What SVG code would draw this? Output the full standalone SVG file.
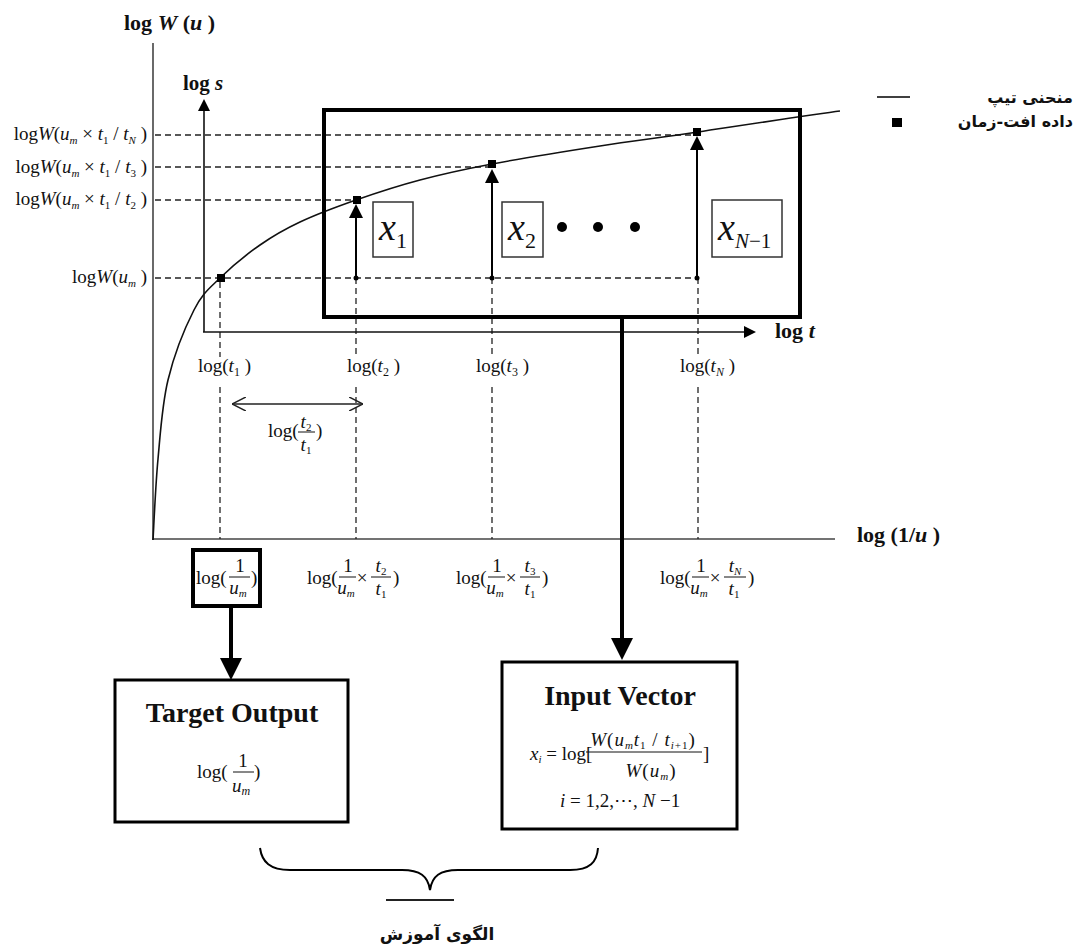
<svg xmlns="http://www.w3.org/2000/svg" width="1075" height="951" viewBox="0 0 1075 951">
<style>
.m{font-family:"Liberation Serif",serif;font-size:19px;fill:#111}
.i{font-style:italic}
.b{font-family:"Liberation Serif",serif;font-weight:bold;fill:#111}
.fa{font-family:"DejaVu Sans",sans-serif;fill:#111}
.dash{stroke:#222;stroke-width:1.3;stroke-dasharray:6 4;fill:none}
.ax{stroke:#444;stroke-width:1.6;fill:none}
.thin{stroke:#111;stroke-width:1.6;fill:none}
.frac{stroke:#111;stroke-width:1}
.thick{stroke:#000;stroke-width:4;fill:none}
.box{stroke:#000;stroke-width:3;fill:#fff}
.xbox{stroke:#333;stroke-width:1.5;fill:#fff}
.sq{fill:#000}
</style>
<defs>
<marker id="big" viewBox="0 0 10 10" refX="0" refY="5" markerWidth="22" markerHeight="22" markerUnits="userSpaceOnUse" orient="auto"><path d="M0,0 L10,5 L0,10 z" fill="#000"/></marker>
<marker id="up" viewBox="0 0 10 10" refX="0" refY="5" markerWidth="15" markerHeight="14" markerUnits="userSpaceOnUse" orient="auto"><path d="M0,0 L10,5 L0,10 z" fill="#000"/></marker>
<marker id="axh" viewBox="0 0 10 10" refX="0" refY="5" markerWidth="13" markerHeight="12" markerUnits="userSpaceOnUse" orient="auto"><path d="M0,0 L10,5 L0,10 z" fill="#000"/></marker>
<marker id="open" viewBox="0 0 10 10" refX="10" refY="5" markerWidth="14" markerHeight="14" markerUnits="userSpaceOnUse" orient="auto-start-reverse"><path d="M0,0 L10,5 L0,10" fill="none" stroke="#222" stroke-width="1.1"/></marker>
</defs>
<rect width="1075" height="951" fill="#fff"/>

<g id="main-axes">
<line class="ax" x1="153" y1="43" x2="153" y2="540"/>
<line class="ax" x1="152" y1="539" x2="835" y2="539"/>
<text class="b" x="124" y="30" font-size="22">log <tspan font-style="italic">W</tspan> (<tspan font-style="italic">u</tspan> )</text>
<text class="b" x="857" y="542" font-size="22">log (1/<tspan font-style="italic">u</tspan> )</text>
</g>

<g id="guides">
<line class="dash" x1="155" y1="135" x2="697" y2="135"/>
<line class="dash" x1="155" y1="167" x2="492" y2="167"/>
<line class="dash" x1="155" y1="200" x2="356" y2="200"/>
<line class="dash" x1="155" y1="278" x2="697" y2="278"/>
<line class="dash" x1="220" y1="282" x2="220" y2="357"/>
<line class="dash" x1="220" y1="387" x2="220" y2="539"/>
<line class="dash" x1="356" y1="278" x2="356" y2="357"/>
<line class="dash" x1="356" y1="387" x2="356" y2="539"/>
<line class="dash" x1="492" y1="278" x2="492" y2="357"/>
<line class="dash" x1="492" y1="387" x2="492" y2="539"/>
<line class="dash" x1="698" y1="278" x2="698" y2="357"/>
<line class="dash" x1="698" y1="387" x2="698" y2="539"/>
</g>

<g id="left-labels">
<text class="m" x="147" y="140" text-anchor="end">log<tspan class="i">W</tspan>(<tspan class="i">u</tspan><tspan class="i" font-size="11" dy="4">m</tspan><tspan dy="-4"> × </tspan><tspan class="i">t</tspan><tspan font-size="11" dy="4">1</tspan><tspan dy="-4"> / </tspan><tspan class="i">t</tspan><tspan class="i" font-size="11" dy="4">N</tspan><tspan dy="-4"> )</tspan></text>
<text class="m" x="147" y="173" text-anchor="end">log<tspan class="i">W</tspan>(<tspan class="i">u</tspan><tspan class="i" font-size="11" dy="4">m</tspan><tspan dy="-4"> × </tspan><tspan class="i">t</tspan><tspan font-size="11" dy="4">1</tspan><tspan dy="-4"> / </tspan><tspan class="i">t</tspan><tspan font-size="11" dy="4">3</tspan><tspan dy="-4"> )</tspan></text>
<text class="m" x="147" y="205" text-anchor="end">log<tspan class="i">W</tspan>(<tspan class="i">u</tspan><tspan class="i" font-size="11" dy="4">m</tspan><tspan dy="-4"> × </tspan><tspan class="i">t</tspan><tspan font-size="11" dy="4">1</tspan><tspan dy="-4"> / </tspan><tspan class="i">t</tspan><tspan font-size="11" dy="4">2</tspan><tspan dy="-4"> )</tspan></text>
<text class="m" x="147" y="283" text-anchor="end">log<tspan class="i">W</tspan>(<tspan class="i">u</tspan><tspan class="i" font-size="11" dy="4">m</tspan><tspan dy="-4"> )</tspan></text>
</g>

<g id="inner-axes">
<line class="thin" x1="204" y1="332" x2="204" y2="111" marker-end="url(#axh)"/>
<line class="thin" x1="203" y1="332" x2="744" y2="332" marker-end="url(#axh)"/>
<text class="b" x="183" y="90" font-size="21">log <tspan font-style="italic">s</tspan></text>
<text class="b" x="775" y="338" font-size="22">log <tspan font-style="italic">t</tspan></text>
</g>

<g id="t-labels">
<text class="m" x="198" y="372">log(<tspan class="i">t</tspan><tspan font-size="12" dy="4">1</tspan><tspan dy="-4"> )</tspan></text>
<text class="m" x="347" y="372">log(<tspan class="i">t</tspan><tspan font-size="12" dy="4">2</tspan><tspan dy="-4"> )</tspan></text>
<text class="m" x="476" y="372">log(<tspan class="i">t</tspan><tspan font-size="12" dy="4">3</tspan><tspan dy="-4"> )</tspan></text>
<text class="m" x="680" y="372">log(<tspan class="i">t</tspan><tspan class="i" font-size="12" dy="4">N</tspan><tspan dy="-4"> )</tspan></text>
</g>

<g id="ratio-label">
<text class="m" x="268" y="437" font-size="18">log(</text>
<text class="m i" x="306" y="428" text-anchor="middle" font-size="17">t<tspan font-style="normal" font-size="11" dy="3">2</tspan></text>
<line class="frac" x1="298" y1="432" x2="315" y2="432"/>
<text class="m i" x="306" y="451" text-anchor="middle" font-size="17">t<tspan font-style="normal" font-size="11" dy="3">1</tspan></text>
<text class="m" x="316" y="437" font-size="18">)</text>
</g>

<g id="curve">
<path class="thin" stroke-width="1.5" d="M153,540 C153.8,526.5 155.5,485.7 158,459 C160.5,432.3 162,404.8 168,380 C174,355.2 185.3,327 194,310 C202.7,293 209,288.8 220,278 C231,267.2 246.7,254.3 260,245 C273.3,235.7 284,229.5 300,222 C316,214.5 336,207 356,200 C376,193 397.3,186 420,180 C442.7,174 462,169.7 492,164 C522,158.3 565.7,151.3 600,146 C634.3,140.7 658,138 698,132 C738,126 816.3,114 840,111"/>
</g>

<g id="window">
<rect x="324" y="110" width="476" height="207" fill="none" stroke="#000" stroke-width="4"/>
</g>

<g id="data-points">
<rect class="sq" x="217" y="274" width="8" height="8"/>
<rect class="sq" x="353" y="196" width="8" height="8"/>
<rect class="sq" x="488" y="160" width="8" height="8"/>
<rect class="sq" x="693" y="128" width="8" height="8"/>
<circle cx="356" cy="278" r="2.5"/>
<circle cx="492" cy="278" r="2.5"/>
<circle cx="697" cy="278" r="2.5"/>
</g>

<g id="node-x1">
<rect class="xbox" x="373" y="202" width="40" height="55"/>
<text x="379" y="240" font-family="Liberation Serif,serif" font-size="38" font-style="italic" fill="#111">x<tspan font-style="normal" font-size="22" dy="8">1</tspan></text>
</g>
<g id="node-x2">
<rect class="xbox" x="502" y="202" width="41" height="55"/>
<text x="508" y="240" font-family="Liberation Serif,serif" font-size="38" font-style="italic" fill="#111">x<tspan font-style="normal" font-size="22" dy="8">2</tspan></text>
</g>
<g id="ellipsis">
<circle cx="562" cy="227" r="5"/>
<circle cx="598" cy="227" r="5"/>
<circle cx="635" cy="227" r="5"/>
</g>
<g id="node-xN1">
<rect class="xbox" x="712" y="200" width="70" height="57"/>
<text x="718" y="240" font-family="Liberation Serif,serif" font-size="38" font-style="italic" fill="#111">x<tspan font-size="21" dy="8">N</tspan><tspan font-style="normal" font-size="21">−1</tspan></text>
</g>

<g id="u-labels">
<g id="node-target-label">
<rect x="193" y="550" width="67" height="56" fill="#fff" stroke="#000" stroke-width="4"/>
<text class="m" x="196" y="584">log(</text>
<text class="m" x="240" y="572" text-anchor="middle" font-size="17">1</text>
<line class="frac" x1="229" y1="577" x2="250" y2="577"/>
<text class="m i" x="238" y="594" text-anchor="middle" font-size="17">u<tspan font-size="11" dy="3">m</tspan></text>
<text class="m" x="251" y="584">)</text>
</g>
<text class="m" x="307" y="584">log(</text>
<text class="m" x="348" y="572" text-anchor="middle" font-size="17">1</text>
<line class="frac" x1="339" y1="577" x2="356" y2="577"/>
<text class="m i" x="346" y="594" text-anchor="middle" font-size="17">u<tspan font-size="11" dy="3">m</tspan></text>
<text class="m" x="362" y="584" text-anchor="middle">×</text>
<text class="m i" x="381" y="572" text-anchor="middle" font-size="17">t<tspan font-style="normal" font-size="11" dy="3">2</tspan></text>
<line class="frac" x1="371" y1="577" x2="391" y2="577"/>
<text class="m i" x="381" y="595" text-anchor="middle" font-size="17">t<tspan font-style="normal" font-size="11" dy="3">1</tspan></text>
<text class="m" x="393" y="584">)</text>

<text class="m" x="456" y="584">log(</text>
<text class="m" x="497" y="572" text-anchor="middle" font-size="17">1</text>
<line class="frac" x1="488" y1="577" x2="505" y2="577"/>
<text class="m i" x="495" y="594" text-anchor="middle" font-size="17">u<tspan font-size="11" dy="3">m</tspan></text>
<text class="m" x="511" y="584" text-anchor="middle">×</text>
<text class="m i" x="530" y="572" text-anchor="middle" font-size="17">t<tspan font-style="normal" font-size="11" dy="3">3</tspan></text>
<line class="frac" x1="520" y1="577" x2="540" y2="577"/>
<text class="m i" x="530" y="595" text-anchor="middle" font-size="17">t<tspan font-style="normal" font-size="11" dy="3">1</tspan></text>
<text class="m" x="542" y="584">)</text>

<text class="m" x="660" y="584">log(</text>
<text class="m" x="701" y="572" text-anchor="middle" font-size="17">1</text>
<line class="frac" x1="692" y1="577" x2="709" y2="577"/>
<text class="m i" x="699" y="594" text-anchor="middle" font-size="17">u<tspan font-size="11" dy="3">m</tspan></text>
<text class="m" x="715" y="584" text-anchor="middle">×</text>
<text class="m i" x="735" y="572" text-anchor="middle" font-size="17">t<tspan font-size="11" dy="3">N</tspan></text>
<line class="frac" x1="724" y1="577" x2="746" y2="577"/>
<text class="m i" x="734" y="595" text-anchor="middle" font-size="17">t<tspan font-style="normal" font-size="11" dy="3">1</tspan></text>
<text class="m" x="748" y="584">)</text>
</g>

<g id="connectors">
<line class="thick" x1="622" y1="317" x2="622" y2="638" marker-end="url(#big)"/>
<line class="thick" x1="231" y1="607" x2="231" y2="658" marker-end="url(#big)"/>
<line stroke="#000" stroke-width="2" x1="356" y1="278" x2="356" y2="218" marker-end="url(#up)"/>
<line stroke="#000" stroke-width="2" x1="492" y1="278" x2="492" y2="183" marker-end="url(#up)"/>
<line stroke="#000" stroke-width="2" x1="697" y1="278" x2="697" y2="150" marker-end="url(#up)"/>
<line stroke="#222" stroke-width="1.6" x1="232" y1="404" x2="363" y2="404" marker-start="url(#open)" marker-end="url(#open)"/>
</g>

<g id="node-target-output">
<rect class="box" x="115" y="680" width="233" height="142"/>
<text class="b" x="232" y="722" font-size="28" text-anchor="middle">Target Output</text>
<text class="m" x="197" y="778" font-size="21">log(</text>
<text class="m" x="243" y="767" text-anchor="middle" font-size="19">1</text>
<line class="frac" x1="233" y1="772" x2="254" y2="772"/>
<text class="m i" x="241" y="792" text-anchor="middle" font-size="19">u<tspan font-size="12" dy="3">m</tspan></text>
<text class="m" x="254" y="778" font-size="21">)</text>
</g>

<g id="node-input-vector">
<rect class="box" x="502" y="662" width="235" height="167"/>
<text class="b" x="620" y="705" font-size="28" text-anchor="middle">Input Vector</text>
<text class="m" x="530" y="760" font-size="17"><tspan class="i">x</tspan><tspan class="i" font-size="11" dy="3">i</tspan><tspan dy="-3"> = log[</tspan></text>
<text class="m" x="643" y="746" font-size="18" text-anchor="middle" letter-spacing="1"><tspan class="i">W</tspan>(<tspan class="i">u</tspan><tspan class="i" font-size="11" dy="3">m</tspan><tspan class="i" dy="-3">t</tspan><tspan font-size="11" dy="3">1</tspan><tspan dy="-3"> / </tspan><tspan class="i">t</tspan><tspan class="i" font-size="11" dy="3">i</tspan><tspan font-size="11">+1</tspan><tspan dy="-3">)</tspan></text>
<line class="frac" x1="586" y1="752" x2="702" y2="752"/>
<text class="m" x="651" y="777" font-size="18" text-anchor="middle" letter-spacing="1"><tspan class="i">W</tspan>(<tspan class="i">u</tspan><tspan class="i" font-size="11" dy="3">m</tspan><tspan dy="-3">)</tspan></text>
<text class="m" x="703" y="760" font-size="17">]</text>
<text class="m" x="560" y="807" font-size="16"><tspan class="i">i</tspan> = 1,2,⋯, <tspan class="i">N</tspan> −1</text>
</g>

<g id="legend">
<line x1="877" y1="97" x2="910" y2="97" stroke="#000" stroke-width="1.5"/>
<rect class="sq" x="892" y="118" width="10" height="9"/>
<text class="fa" x="1073" y="103" font-size="16" font-weight="bold" text-anchor="end">منحنی تیپ</text>
<text class="fa" x="1073" y="127" font-size="16" font-weight="bold" text-anchor="end">داده افت-زمان</text>
</g>

<g id="training-pattern">
<path d="M260,848 C262,862 270,870 290,870 L402,870 C420,870 428,876 430,890 C432,876 440,870 458,870 L570,870 C590,870 597,862 598,848" fill="none" stroke="#000" stroke-width="2"/>
<line x1="386" y1="900" x2="454" y2="900" stroke="#222" stroke-width="2"/>
<text class="fa" x="437" y="940" font-size="17" font-weight="bold" text-anchor="middle">الگوی آموزش</text>
</g>
</svg>
